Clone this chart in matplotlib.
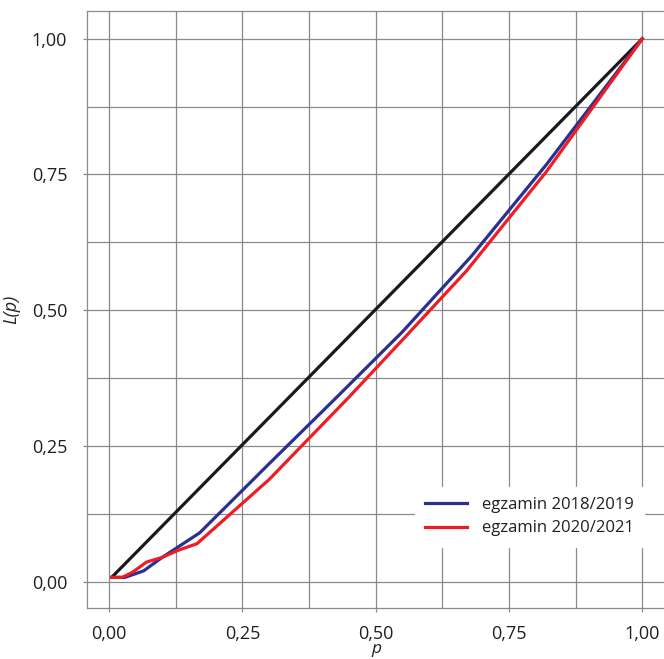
import numpy as np
import matplotlib
matplotlib.use('Agg')
import matplotlib.pyplot as plt

# Lorenz curve data
p_equal = [0.005, 1.0]
L_equal = [0.008, 1.0]

p_2019 = [0.005, 0.03, 0.065, 0.10, 0.17, 0.30, 0.42, 0.55, 0.68, 0.82, 1.0]
L_2019 = [0.008, 0.008, 0.02, 0.045, 0.09, 0.217, 0.333, 0.46, 0.60, 0.768, 1.0]

p_2021 = [0.005, 0.025, 0.045, 0.07, 0.10, 0.13, 0.165, 0.30, 0.45, 0.55, 0.67, 0.82, 1.0]
L_2021 = [0.008, 0.008, 0.018, 0.036, 0.045, 0.058, 0.07, 0.188, 0.34, 0.445, 0.572, 0.755, 1.0]

labels = ['egzamin 2018/2019', 'egzamin 2020/2021']
major_ticks = [0.0, 0.25, 0.5, 0.75, 1.0]
tick_labels = ['0,00', '0,25', '0,50', '0,75', '1,00']

plt.rcParams['font.family'] = ['Open Sans', 'DejaVu Sans']

W, H = 664, 659
fig = plt.figure(figsize=(W / 100, H / 100), dpi=100)
ax = fig.add_axes([86.7 / W, (H - 608) / H, 578.5 / W, 597 / H])

grid_col = '#8a8a8a'

ax.plot(p_equal, L_equal, color='#1a1a1a', lw=2.3, solid_capstyle='butt', zorder=3)
ax.plot(p_2019, L_2019, color='#2b3090', lw=2.3, label=labels[0], zorder=4)
ax.plot(p_2021, L_2021, color='#ee1c25', lw=2.3, label=labels[1], zorder=5)

ax.set_xlim(-0.0418, 1.0429)
ax.set_ylim(-0.0484, 1.051)

ax.set_xticks(major_ticks)
ax.set_xticklabels(tick_labels)
ax.set_yticks(major_ticks)
ax.set_yticklabels(tick_labels)
ax.set_xticks(np.arange(0.125, 1.0, 0.25), minor=True)
ax.set_yticks(np.arange(0.125, 1.0, 0.25), minor=True)
ax.tick_params(which='major', direction='out', length=3, width=0.9, color=grid_col,
               labelsize=13, labelcolor='#231f20', pad=11)
ax.tick_params(axis='x', which='major', pad=9)
ax.tick_params(which='minor', length=0)
ax.grid(True, which='both', color=grid_col, lw=0.9, zorder=0)
ax.set_axisbelow(True)

for s in ax.spines.values():
    s.set_color(grid_col)
    s.set_linewidth(0.9)

ax.set_xlabel('p', style='italic', fontsize=12.5, color='#231f20', labelpad=-1)
ax.set_ylabel('L(p)', style='italic', fontsize=13, color='#231f20', labelpad=8)

leg = ax.legend(loc='upper left', bbox_to_anchor=(415 / W, 1 - 487 / H),
                bbox_transform=fig.transFigure, borderaxespad=0, fontsize=12,
                frameon=True, fancybox=False, framealpha=1, edgecolor='white',
                handlelength=2.5, handletextpad=0.9, labelspacing=0.45, borderpad=0.6)
for t in leg.get_texts():
    t.set_color('#231f20')

fig.savefig('out.png', dpi=100)
